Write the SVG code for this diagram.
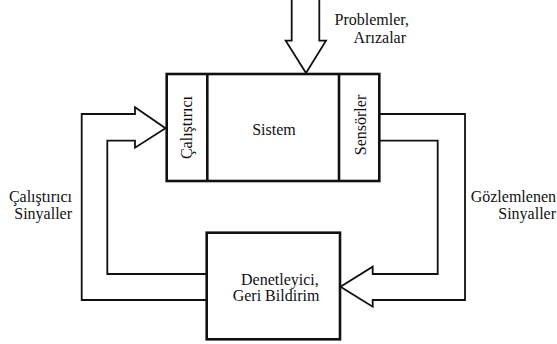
<svg xmlns="http://www.w3.org/2000/svg" width="557" height="344" viewBox="0 0 557 344">
  <style>
    .box { fill: #fff; stroke: #111; stroke-width: 2.6; }
    .div { stroke: #111; stroke-width: 2.6; }
    .conn { fill: none; stroke: #111; stroke-width: 1.8; stroke-linejoin: miter; }
    .lbl { font-family: "Liberation Serif", "Times New Roman", serif; font-size: 16px; fill: #111; }
  </style>
  <rect width="557" height="344" fill="#fff"/>

  <!-- connectors: hollow double-line arrows -->
  <g id="connectors">
    <!-- disturbance input from above -->
    <path class="conn" d="M291.7,-1 V40.7 H285.7 L306,73 L326,40.7 H319.3 V-1"/>
    <!-- controller to actuator -->
    <path class="conn" d="M206.7,300 H81.7 V114 H135 V107.3 L165.5,128.3 L135,147.7 V140.7 H107.3 V274 H206.7"/>
    <!-- sensors to controller -->
    <path class="conn" d="M379.3,114 H465 V300 H372.7 V306.7 L340.5,286.7 L372.7,266.7 V274 H437.7 V140.7 H379.3"/>
  </g>

  <!-- plant with actuator and sensor strips -->
  <g id="system">
    <rect class="box" x="166.7" y="74" width="212.6" height="107"/>
    <line class="div" x1="207.3" y1="74" x2="207.3" y2="181"/>
    <line class="div" x1="339" y1="74" x2="339" y2="181"/>
    <text class="lbl" x="274" y="135" text-anchor="middle">Sistem</text>
  </g>
  <g id="actuator">
    <text class="lbl" transform="translate(192,127.5) rotate(-90)" text-anchor="middle">Çalıştırıcı</text>
  </g>
  <g id="sensors">
    <text class="lbl" transform="translate(366,125) rotate(-90)" text-anchor="middle">Sensörler</text>
  </g>

  <!-- controller -->
  <g id="controller">
    <rect class="box" x="206.7" y="232.7" width="133.3" height="106.6"/>
    <text class="lbl" x="241" y="285">Denetleyici,</text>
    <text class="lbl" x="232.7" y="301">Geri Bildirim</text>
  </g>

  <!-- free labels -->
  <g id="label-disturbance">
    <text class="lbl" x="409" y="25" text-anchor="end">Problemler,</text>
    <text class="lbl" x="406" y="43" text-anchor="end">Arızalar</text>
  </g>
  <g id="label-actuator-signals">
    <text class="lbl" x="72" y="201.5" text-anchor="end">Çalıştırıcı</text>
    <text class="lbl" x="72" y="218.5" text-anchor="end">Sinyaller</text>
  </g>
  <g id="label-observed-signals">
    <text class="lbl" x="556" y="201.5" text-anchor="end">Gözlemlenen</text>
    <text class="lbl" x="556" y="218.5" text-anchor="end">Sinyaller</text>
  </g>
</svg>
